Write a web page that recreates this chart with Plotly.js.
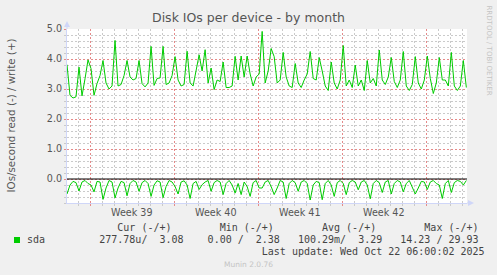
<!DOCTYPE html>
<html><head><meta charset="utf-8">
<script src="https://cdn.plot.ly/plotly-3.0.1.min.js"></script>
<style>html,body{margin:0;padding:0;background:#F0F0F0;}#chart{width:497px;height:275px;}</style>
</head><body><div id="chart"></div>
<script>
// ---- data (6-hour samples) ----
const startTime = '2025-09-19 02:00';
const stepHours = 6;
const writeVals = [3.81,2.79,2.70,2.74,3.73,2.77,3.34,3.97,3.68,2.79,
3.18,3.45,3.95,3.20,3.00,3.10,4.62,3.10,3.15,3.45,
3.95,3.40,3.30,3.35,3.95,3.18,3.07,3.20,4.42,3.12,
3.35,3.37,4.42,3.15,3.20,3.45,4.08,3.30,3.10,3.15,
4.26,3.20,3.10,3.60,4.14,3.60,4.31,3.20,3.70,2.98,
3.30,3.25,3.90,3.05,3.05,3.10,4.09,3.30,4.10,3.40,
4.10,3.50,3.10,3.40,3.50,4.92,3.20,3.60,4.35,4.08,
3.20,3.30,4.22,3.40,3.10,3.05,3.85,3.20,3.05,3.30,
3.50,4.25,3.35,3.30,4.05,3.60,3.10,2.95,3.90,3.20,
3.00,3.30,4.45,3.10,3.30,3.05,3.80,3.10,3.30,2.95,
3.95,3.20,3.35,3.10,4.30,3.30,3.15,3.40,4.05,3.25,
3.05,3.30,4.25,3.10,2.95,3.15,4.08,3.20,3.00,3.30,
4.10,3.35,2.85,3.20,4.05,3.30,3.30,3.10,4.22,3.10,
2.95,3.10,3.95,3.05];
const readVals = [0.50,0.20,0.08,0.12,0.40,0.10,0.05,0.15,0.20,0.43,
0.08,0.10,0.68,0.30,0.05,0.10,0.63,0.30,0.08,0.12,
0.56,0.15,0.05,0.10,0.41,0.12,0.05,0.15,0.58,0.20,
0.06,0.10,0.62,0.25,0.05,0.10,0.25,0.50,0.10,0.06,
0.20,0.65,0.15,0.08,0.35,0.19,0.10,0.05,0.41,0.12,
0.05,0.10,0.52,0.15,0.05,0.20,0.47,0.15,0.52,0.10,
0.25,0.58,0.12,0.05,0.30,0.30,0.10,0.05,0.25,0.52,
0.30,0.05,0.10,0.65,0.15,0.05,0.12,0.41,0.10,0.05,
0.15,0.70,0.20,0.08,0.12,0.69,0.15,0.05,0.20,0.58,
0.12,0.05,0.15,0.52,0.12,0.05,0.10,0.36,0.10,0.05,
0.20,0.66,0.15,0.05,0.12,0.45,0.10,0.05,0.50,0.15,
0.05,0.10,0.43,0.15,0.05,0.25,0.50,0.30,0.08,0.10,
0.35,0.10,0.05,0.15,0.20,0.65,0.15,0.05,0.45,0.12,
0.05,0.08,0.20,0.05];
const weekLabels = ['Week 39','Week 40','Week 41','Week 42'];
const weekMid = ['2025-09-24 12:00','2025-10-01 12:00','2025-10-08 12:00','2025-10-15 12:00'];
const yTickVals = [0,1,2,3,4,5];
const yTickText = ['0.0','1.0','2.0','3.0','4.0','5.0'];
const legendHeader = ['Cur (-/+)','Min (-/+)','Avg (-/+)','Max (-/+)'];
const legendValues = ['277.78u/  3.08','0.00 /  2.38','100.29m/  3.29','14.23 / 29.93'];
const seriesName = 'sda';
const lastUpdate = 'Last update: Wed Oct 22 06:00:02 2025';

// ---- helpers ----
const DAY = 86400000;
function toMs(s){const [d,t]=s.split(' ');const [Y,M,D]=d.split('-').map(Number);const [h,m]=t.split(':').map(Number);return Date.UTC(Y,M-1,D,h,m);}
function fmt(ms){const d=new Date(ms);const p=n=>String(n).padStart(2,'0');
  return d.getUTCFullYear()+'-'+p(d.getUTCMonth()+1)+'-'+p(d.getUTCDate())+' '+p(d.getUTCHours())+':'+p(d.getUTCMinutes())+':'+p(d.getUTCSeconds());}
const t0 = toMs(startTime);
const xs = writeVals.map((_,i)=>fmt(t0 + i*stepHours*3600000));
const tEnd = t0 + 400/12.01*DAY;

// minor y grid every 0.2, skipping the integer (major) lines
const yMinor = [];
for(let k=-4;k<=25;k++){ if(k%5!==0) yMinor.push(+(k*0.2).toFixed(1)); }
// minor x grid every day, skipping the weekly (major) lines
const xMinor = [];
for(let t=toMs('2025-09-19 00:00');t<=tEnd;t+=DAY){ if(((t-toMs('2025-09-21 00:00'))/DAY)%7!==0) xMinor.push(fmt(t)); }

const L=67,R=467,T=29,B=203;
const PX = p => (p-L)/(R-L);
const PY = p => (B-p)/(B-T);
const NB = '\u00A0';
function col(parts){let s='';for(const [c,txt] of parts){while(s.length<c)s+=' ';s+=txt;}return s.replace(/ /g,NB);}

const green='#00CC00', mgrid='#E58A8A', grid='#CACACA', axis='#CFD6F8';
const sans='DejaVu Sans', mono='DejaVu Sans Mono';
const dash='2px,2px';

const traces=[
 {x:xs,y:writeVals,mode:'lines',line:{color:green,width:1},hoverinfo:'skip',showlegend:false},
 {x:xs,y:readVals.map(v=>-v),mode:'lines',line:{color:green,width:1},hoverinfo:'skip',showlegend:false}
];

const ann=[];
weekLabels.forEach((w,i)=>ann.push({xref:'x',yref:'paper',x:weekMid[i],y:PY(212),text:w,showarrow:false,
  xanchor:'center',yanchor:'middle',font:{family:sans,size:9.6,color:'#555'}}));
ann.push({xref:'paper',yref:'paper',x:PX(10.5),y:PY(116),text:'IOs/second read (-) / write (+)',textangle:-90,
  showarrow:false,xanchor:'center',yanchor:'middle',font:{family:sans,size:10.3,color:'#555'}});
ann.push({xref:'paper',yref:'paper',x:PX(488.5),y:PY(50),text:'RRDTOOL / TOBI OETIKER',textangle:90,
  showarrow:false,xanchor:'center',yanchor:'middle',font:{family:sans,size:7,color:'#C4C4C4'}});
const legX = PX(25);
ann.push({xref:'paper',yref:'paper',x:legX,y:PY(227.7),xanchor:'left',yanchor:'middle',showarrow:false,
  text:col([[15,legendHeader[0]],[32,legendHeader[1]],[49,legendHeader[2]],[66,legendHeader[3]]]),
  font:{family:mono,size:10,color:'#444'}});
ann.push({xref:'paper',yref:'paper',x:legX,y:PY(239.7),xanchor:'left',yanchor:'middle',showarrow:false,
  text:col([[0,seriesName],[12,legendValues[0]],[30,legendValues[1]],[45,legendValues[2]],[62,legendValues[3]]]),
  font:{family:mono,size:10,color:'#444'}});
ann.push({xref:'paper',yref:'paper',x:legX,y:PY(251.3),xanchor:'left',yanchor:'middle',showarrow:false,
  text:col([[39,lastUpdate]]),font:{family:mono,size:10,color:'#444'}});
ann.push({xref:'paper',yref:'paper',x:PX(248),y:PY(264.3),xanchor:'center',yanchor:'middle',showarrow:false,
  text:'Munin 2.0.76',font:{family:sans,size:7.5,color:'#C4C4C4'}});

const shapes=[
 {type:'line',xref:'paper',yref:'y',x0:0,x1:1,y0:0,y1:0,line:{color:'#000',width:1},layer:'above'},
 {type:'rect',xref:'paper',yref:'paper',x0:PX(14),x1:PX(20),y0:PY(243),y1:PY(237),fillcolor:green,line:{width:0}},
 {type:'line',xref:'paper',yref:'paper',x0:0,x1:0,y0:1,y1:PY(25),line:{color:axis,width:1}},
 {type:'path',xref:'paper',yref:'paper',path:`M ${PX(64)} ${PY(27)} L ${PX(67)} ${PY(21)} L ${PX(70)} ${PY(27)} Z`,fillcolor:axis,line:{width:0}},
 {type:'line',xref:'paper',yref:'paper',x0:1,x1:PX(470),y0:0,y1:0,line:{color:axis,width:1}},
 {type:'path',xref:'paper',yref:'paper',path:`M ${PX(468)} ${PY(200)} L ${PX(474)} ${PY(203)} L ${PX(468)} ${PY(206)} Z`,fillcolor:axis,line:{width:0}}
];

const layout={
 width:497,height:275,margin:{l:L,r:497-R,t:T,b:275-B,pad:0},
 paper_bgcolor:'#F0F0F0',plot_bgcolor:'#FFFFFF',showlegend:false,
 title:{text:'Disk IOs per device - by month',x:0.5,xref:'container',xanchor:'center',y:1-18/275,yref:'container',yanchor:'middle',
   font:{family:sans,size:12.5,color:'#555'}},
 xaxis:{type:'date',range:[fmt(t0),fmt(tEnd)],showline:true,linecolor:axis,linewidth:1,zeroline:false,
   tickmode:'linear',tick0:'2025-09-21',dtick:7*DAY,showticklabels:false,
   showgrid:true,gridcolor:mgrid,griddash:dash,gridwidth:1,ticks:'outside',ticklen:2,tickcolor:mgrid,
   minor:{tickmode:'array',tickvals:xMinor,showgrid:true,gridcolor:grid,griddash:dash,gridwidth:1,ticks:'outside',ticklen:2,tickcolor:grid},
   fixedrange:true},
 yaxis:{range:[-0.8,5.0],tickmode:'array',tickvals:yTickVals,ticktext:yTickText,showline:true,linecolor:axis,linewidth:1,zeroline:false,
   showgrid:true,gridcolor:mgrid,griddash:dash,gridwidth:1,ticks:'outside',ticklen:2,tickcolor:mgrid,
   minor:{tickmode:'array',tickvals:yMinor,showgrid:true,gridcolor:grid,griddash:dash,gridwidth:1,ticks:'outside',ticklen:2,tickcolor:grid},
   tickfont:{family:sans,size:9.6,color:'#555'},fixedrange:true},
 annotations:ann,shapes:shapes
};
Plotly.newPlot('chart',traces,layout,{staticPlot:true,displayModeBar:false});
</script></body></html>
